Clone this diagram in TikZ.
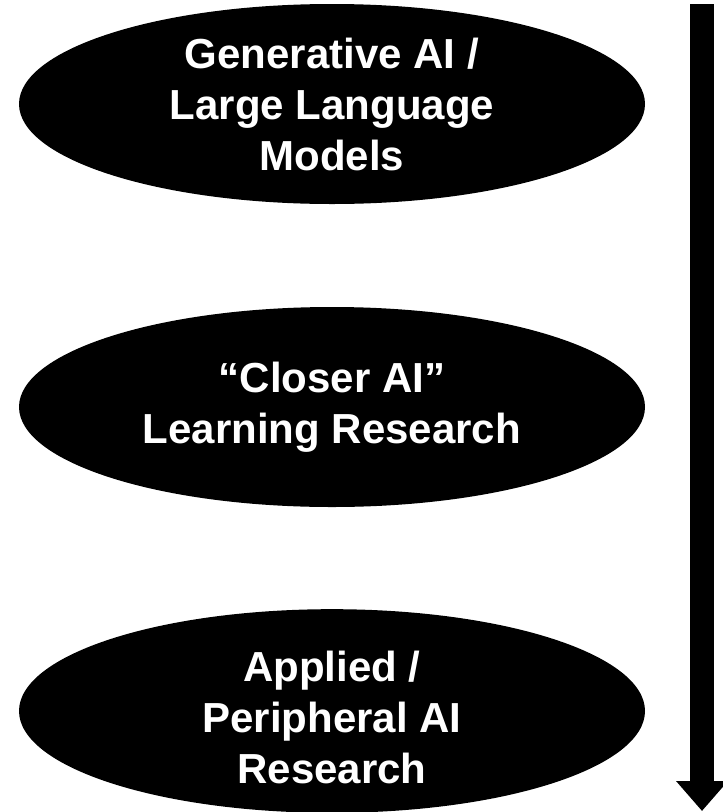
\documentclass[tikz,border=0pt]{standalone}
\usepackage{fontspec}
\setmainfont{Liberation Sans}
\usetikzlibrary{shapes.geometric, arrows.meta, positioning}
\tikzset{
  topic/.style = {ellipse, fill=black, text=white, inner sep=0pt,
                  minimum width=626pt, minimum height=200pt, align=center,
                  font=\fontsize{42}{51}\selectfont\bfseries},
  scale arrow/.style = {line width=24pt, -{Triangle[width=50pt, length=30pt]}},
}
\begin{document}
\begin{tikzpicture}[x=1pt, y=-1pt]
    \useasboundingbox (0,0) rectangle (723,812);

    %% Three research areas, top to bottom
    \node[topic] (genai)   at (332, 104) {Generative AI /\\Large Language\\Models};
    \node[topic] (closer)  at (332, 407) {“Closer AI”\\Learning Research};
    \node[topic, text height=144pt, text depth=-16pt] (applied) at (332, 711)
        {Applied /\\Peripheral AI\\Research};

    %% Downward scale on the right
    \coordinate (top) at (702, 4);
    \coordinate (bottom) at (702, 811);
    \draw[scale arrow] (top) -- (bottom);

\end{tikzpicture}
\end{document}
